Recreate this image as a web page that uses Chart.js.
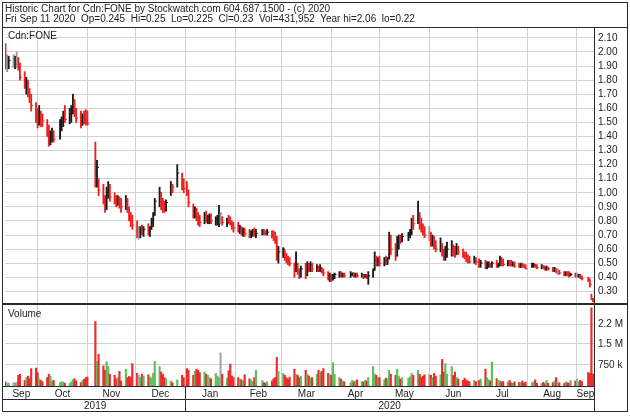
<!DOCTYPE html>
<html>
<head>
<meta charset="UTF-8">
<title>Cdn:FONE historic chart</title>
<script src="https://cdn.jsdelivr.net/npm/chart.js"></script>
<style>
  * { margin: 0; padding: 0; box-sizing: border-box; }
  body { background: #fff; width: 630px; height: 416px; overflow: hidden; font-family: "Liberation Sans", Arial, sans-serif; }
  #wrap { position: relative; width: 630px; height: 416px; }
  canvas { position: absolute; left: 0; top: 0; }
  .hdr { position: absolute; left: 5px; font-size: 10px; line-height: 10px; color: #222; white-space: pre; }
  .tag { position: absolute; font-size: 10px; line-height: 10px; color: #222; }
</style>
</head>
<body>
<div id="wrap">
  <canvas id="chart" width="630" height="416"></canvas>
  <div class="hdr" style="top:4px">Historic Chart for Cdn:FONE by Stockwatch.com 604.687.1500 - (c) 2020</div>
  <div class="hdr" style="top:14px">Fri Sep 11 2020  Op=0.245  Hi=0.25  Lo=0.225  Cl=0.23  Vol=431,952  Year hi=2.06  lo=0.22</div>
  <div class="tag" style="left:8px;top:31px">Cdn:FONE</div>
  <div class="tag" style="left:8px;top:309px">Volume</div>
</div>
<script>
  // --- trading calendar ---
  const startDate = '2019-09-11';
  const endDate = '2020-09-11';
  const holidays = ['2019-10-14', '2019-12-25', '2019-12-26', '2020-01-01', '2020-02-17',
                    '2020-04-10', '2020-05-18', '2020-07-01', '2020-08-03', '2020-09-07'];
  const monthLabels = ['Sep', 'Oct', 'Nov', 'Dec', 'Jan', 'Feb', 'Mar', 'Apr', 'May', 'Jun', 'Jul', 'Aug', 'Sep'];
  const monthStartDates = ['2019-10-01', '2019-11-01', '2019-12-01', '2020-01-01', '2020-02-01', '2020-03-01',
                           '2020-04-01', '2020-05-01', '2020-06-01', '2020-07-01', '2020-08-01', '2020-09-01'];
  const yearLabels = ['2019', '2020'];

  // --- daily prices, one row per month (null = no trading) ---
  const high = [
    2.06,1.98,1.97,1.98,1.97,2.00,1.96,1.92,1.86,1.82,1.80,1.74,1.70,1.64,
    1.60,1.62,1.58,1.56,1.52,1.48,1.44,1.46,1.44,1.52,1.54,1.58,1.62,1.60,1.62,1.70,1.66,1.60,1.58,1.56,1.58,1.59,
    1.58,null,null,1.36,1.23,1.10,1.06,0.98,1.04,1.08,1.06,1.00,0.98,0.98,0.97,0.96,0.98,0.96,0.90,0.86,0.84,
    0.80,0.76,0.76,0.77,0.76,0.78,0.76,0.82,0.86,0.96,1.04,1.00,0.96,0.94,0.95,1.08,1.06,1.20,1.14,1.10,
    1.08,1.02,0.92,0.90,0.89,0.86,0.84,0.86,0.87,0.84,0.85,0.85,0.83,0.84,0.91,0.86,0.83,0.82,0.84,0.83,0.80,0.79,
    0.79,0.77,0.76,0.75,0.75,0.74,0.73,0.74,0.75,0.74,0.74,0.74,0.73,0.74,0.73,0.73,0.72,0.69,0.62,
    0.61,0.59,0.57,0.55,0.54,0.50,0.58,0.50,0.46,0.48,0.50,0.51,0.50,0.51,0.50,0.49,0.48,0.49,0.47,0.46,0.44,0.43,
    0.42,0.42,0.43,0.44,0.44,0.43,0.43,0.44,0.43,0.43,0.43,0.43,0.43,0.42,0.42,0.42,0.44,0.46,0.58,0.55,0.54,
    0.55,0.54,0.55,0.54,0.72,0.70,0.64,0.69,0.70,0.70,0.71,0.72,0.74,0.82,0.84,0.94,0.86,0.82,0.78,0.76,
    0.76,0.72,0.70,0.69,0.66,0.68,0.64,0.60,0.62,0.65,0.66,0.63,0.62,0.64,0.62,0.60,0.58,0.58,0.56,0.55,0.55,0.54,
    0.53,0.52,0.52,0.51,0.51,0.50,0.51,0.52,0.50,0.55,0.54,0.53,0.52,0.52,0.52,0.51,0.51,0.50,0.50,0.50,0.49,0.49,
    0.50,0.50,0.49,0.49,0.49,0.48,0.48,0.48,0.47,0.47,0.47,0.46,0.46,0.45,0.44,0.44,0.44,0.44,0.43,0.43,
    0.43,0.42,0.42,0.41,0.40,0.39,0.28,0.25
  ];
  const low = [
    1.88,1.86,1.88,1.89,1.88,1.89,1.87,1.80,1.74,1.70,1.68,1.64,1.58,1.50,
    1.46,1.48,1.47,1.47,1.40,1.33,1.34,1.36,1.36,1.38,1.44,1.47,1.50,1.49,1.50,1.56,1.54,1.50,1.46,1.48,1.49,1.48,
    1.48,null,null,1.04,1.04,0.98,0.92,0.86,0.88,0.96,0.94,0.92,0.90,0.91,0.89,0.86,0.88,0.86,0.80,0.76,0.74,
    0.68,0.67,0.68,0.70,0.69,0.70,0.69,0.74,0.76,0.84,0.90,0.88,0.86,0.86,0.87,0.98,1.00,1.04,1.02,1.00,
    0.98,0.90,0.82,0.82,0.80,0.77,0.76,0.78,0.79,0.78,0.78,0.78,0.77,0.77,0.76,0.78,0.77,0.76,0.78,0.77,0.74,0.72,
    0.72,0.71,0.70,0.69,0.69,0.68,0.68,0.69,0.69,0.68,0.70,0.70,0.70,0.70,0.68,0.66,0.64,0.52,0.50,
    0.54,0.52,0.50,0.49,0.48,0.40,0.44,0.42,0.39,0.40,0.39,0.41,0.44,0.44,0.44,0.44,0.44,0.44,0.43,0.41,0.38,0.37,
    0.37,0.38,0.39,0.40,0.40,0.40,0.40,0.40,0.41,0.40,0.40,0.40,0.40,0.39,0.40,0.39,0.35,0.40,0.45,0.48,0.48,
    0.48,0.48,0.49,0.49,0.53,0.56,0.52,0.55,0.60,0.64,0.65,0.66,0.68,0.70,0.74,0.78,0.74,0.72,0.70,0.68,
    0.66,0.62,0.62,0.60,0.58,0.58,0.55,0.52,0.52,0.54,0.55,0.55,0.54,0.56,0.56,0.54,0.53,0.51,0.50,0.50,0.50,0.49,
    0.47,0.47,0.46,0.46,0.47,0.47,0.47,0.47,0.47,0.48,0.48,0.48,0.48,0.48,0.48,0.48,0.47,0.47,0.47,0.47,0.47,0.46,
    0.47,0.47,0.47,0.46,0.46,0.46,0.45,0.45,0.45,0.44,0.44,0.43,0.42,0.42,0.41,0.41,0.41,0.40,0.41,0.40,
    0.40,0.40,0.39,0.38,0.37,0.33,0.24,0.225
  ];
  const close = [
    1.92,1.92,1.94,1.94,1.95,1.95,1.88,1.82,1.76,1.78,1.70,1.66,1.62,1.56,
    1.50,1.55,1.52,1.51,1.44,1.36,1.40,1.42,1.38,1.48,1.50,1.55,1.52,1.56,1.58,1.66,1.58,1.53,1.48,1.54,1.52,1.50,
    1.49,null,null,1.08,1.18,1.02,0.95,0.90,1.00,1.04,0.97,0.95,0.94,0.95,0.92,0.90,0.94,0.88,0.83,0.80,0.77,
    0.70,0.70,0.73,0.72,0.74,0.73,0.75,0.80,0.84,0.94,1.00,0.92,0.89,0.88,0.93,1.05,1.04,1.14,1.06,1.03,
    1.00,0.93,0.87,0.88,0.82,0.80,0.79,0.84,0.81,0.83,0.84,0.80,0.81,0.82,0.85,0.85,0.79,0.81,0.80,0.79,0.77,0.75,
    0.74,0.75,0.72,0.73,0.71,0.70,0.71,0.72,0.70,0.71,0.73,0.72,0.71,0.72,0.70,0.68,0.66,0.55,0.58,
    0.60,0.54,0.52,0.51,0.50,0.46,0.49,0.44,0.42,0.46,0.42,0.47,0.46,0.49,0.46,0.47,0.45,0.46,0.44,0.43,0.40,0.41,
    0.39,0.41,0.42,0.43,0.41,0.42,0.41,0.42,0.43,0.41,0.42,0.41,0.42,0.40,0.41,0.40,0.41,0.45,0.52,0.50,0.51,
    0.50,0.52,0.51,0.53,0.66,0.60,0.55,0.66,0.68,0.66,0.69,0.70,0.72,0.80,0.78,0.84,0.76,0.74,0.72,0.70,
    0.70,0.64,0.68,0.62,0.60,0.62,0.57,0.54,0.58,0.60,0.62,0.58,0.56,0.60,0.58,0.56,0.55,0.53,0.52,0.51,0.53,0.51,
    0.49,0.50,0.47,0.48,0.49,0.48,0.50,0.48,0.49,0.53,0.50,0.49,0.50,0.49,0.48,0.49,0.48,0.47,0.49,0.48,0.47,0.46,
    0.48,0.49,0.48,0.47,0.48,0.47,0.46,0.47,0.46,0.45,0.46,0.44,0.44,0.43,0.42,0.43,0.42,0.41,0.42,0.41,
    0.41,0.42,0.40,0.39,0.38,0.35,0.25,0.23
  ];
  // volume in thousands of shares
  const volume = [
    150,90,100,120,110,130,380,420,200,300,350,260,620,640,
    480,260,200,150,300,420,350,180,200,120,150,130,100,90,150,220,260,180,120,200,240,300,
    320,null,null,2300,880,1130,720,560,860,700,420,380,250,300,520,180,600,300,340,320,800,
    450,380,300,420,360,400,320,280,450,880,690,500,420,300,260,180,120,220,380,300,
    620,560,380,520,600,560,480,500,420,380,300,260,450,350,300,1180,420,280,540,780,360,300,
    300,250,220,180,400,260,200,150,300,560,200,120,100,150,180,260,300,1020,520,
    450,380,300,250,320,600,420,380,300,350,560,420,360,280,300,420,560,480,520,620,450,400,
    380,830,420,300,250,180,150,120,200,150,180,220,160,140,200,180,300,700,420,380,300,
    300,220,280,260,560,420,380,600,350,250,300,280,320,450,380,560,420,300,350,400,
    420,380,300,450,350,400,950,500,800,420,700,380,500,300,250,200,280,220,180,150,200,160,
    200,250,600,300,220,180,850,260,200,180,150,160,140,200,120,100,150,130,120,180,100,140,
    120,150,220,100,90,130,80,200,100,120,180,300,140,110,90,150,120,100,200,180,
    250,150,200,160,480,460,2790,432
  ];

  const priceTicks = [0.30,0.40,0.50,0.60,0.70,0.80,0.90,1.00,1.10,1.20,1.30,1.40,1.50,1.60,1.70,1.80,1.90,2.00,2.10];
  const volTicks = [750, 1500, 2200];
  const volTickLabels = ['750 k', '1.5 M', '2.2 M'];

  // --- build x positions (calendar days since start) ---
  const DAY = 86400000;
  const t0 = Date.parse(startDate);
  const dayOf = s => (Date.parse(s) - t0) / DAY;
  const tradeDays = [];
  for (let t = t0; t <= Date.parse(endDate); t += DAY) {
    const d = new Date(t);
    const wd = d.getUTCDay();
    if (wd === 0 || wd === 6) continue;
    if (holidays.includes(d.toISOString().slice(0, 10))) continue;
    tradeDays.push((t - t0) / DAY);
  }

  const X_MIN = -0.3, X_MAX = 366.6;
  const monthStarts = monthStartDates.map(dayOf);
  const edges = [X_MIN, ...monthStarts, X_MAX];
  const monthMids = monthLabels.map((_, i) => (edges[i] + edges[i + 1]) / 2);
  const yearStart = dayOf('2020-01-01');
  const yearMids = [(X_MIN + yearStart) / 2, (yearStart + X_MAX) / 2];

  const RED = '#ee2020', BLACK = '#1a1a1a', GREY = '#9a9a9a';
  const VRED = '#ee2a2a', VGREEN = '#5fbf5f', VGREY = '#a8a8a8';

  const rangeData = [], closeData = [], volData = [];
  const barColors = [], volColors = [];
  let prev = null;
  tradeDays.forEach((d, i) => {
    if (high[i] === null) return;
    const c = close[i];
    const dir = prev === null ? -1 : Math.sign(Math.round((c - prev) * 1000));
    barColors.push(dir > 0 ? BLACK : dir < 0 ? RED : GREY);
    volColors.push(dir > 0 ? VGREEN : dir < 0 ? VRED : VGREY);
    rangeData.push({ x: d, y: [low[i], high[i]] });
    closeData.push({ x: d + 0.6, y: c });
    volData.push({ x: d, y: volume[i] });
    prev = c;
  });

  Chart.defaults.font.family = '"Liberation Sans", Arial, sans-serif';
  Chart.defaults.font.size = 10;
  Chart.defaults.color = '#222';

  const GRID = '#d2d2d2';

  // panel borders and the year divider
  const frame = {
    id: 'frame',
    afterDraw(chart) {
      const { ctx, chartArea: a, scales } = chart;
      const line = (x1, y1, x2, y2) => { ctx.beginPath(); ctx.moveTo(x1, y1); ctx.lineTo(x2, y2); ctx.stroke(); };
      ctx.save();
      ctx.strokeStyle = '#2a2a2a';
      ctx.lineWidth = 1;
      ctx.strokeRect(2.5, 2.5, 625, 409);
      line(2, 27.5, 628, 27.5);
      line(a.right + 0.5, 27, a.right + 0.5, 412);
      line(2, a.bottom + 0.5, a.right, a.bottom + 0.5);
      line(2, scales.xy.top + 0.5, a.right, scales.xy.top + 0.5);
      const xb = Math.round(scales.x.getPixelForValue(yearStart)) + 0.5;
      line(xb, a.bottom, xb, 412);
      ctx.fillStyle = '#2a2a2a';
      ctx.fillRect(2, Math.round(scales.yVol.top) - 1, 626, 2);
      ctx.restore();
    }
  };

  const xBase = { type: 'linear', min: X_MIN, max: X_MAX, offset: false, position: 'bottom' };

  new Chart(document.getElementById('chart'), {
    type: 'bar',
    data: {
      datasets: [
        { label: 'Range', yAxisID: 'y', data: rangeData, backgroundColor: barColors, barThickness: 1.2, grouped: false },
        { type: 'line', label: 'Close', yAxisID: 'y', data: closeData, showLine: false,
          pointStyle: 'line', pointRadius: 1, pointBorderWidth: 1,
          pointBorderColor: barColors, pointBackgroundColor: barColors },
        { label: 'Volume', yAxisID: 'yVol', data: volData, backgroundColor: volColors, barThickness: 1.5, grouped: false },
      ]
    },
    options: {
      responsive: false,
      animation: false,
      events: [],
      layout: { padding: { left: 3, right: 3, top: 28, bottom: 5 } },
      plugins: { legend: { display: false }, tooltip: { enabled: false } },
      scales: {
        x: {
          ...xBase, weight: 0,
          afterBuildTicks: s => { s.ticks = monthStarts.map(v => ({ value: v })); },
          ticks: { display: false },
          grid: { color: GRID, drawTicks: false, offset: false },
          border: { display: false },
          afterFit: s => { s.height = 0; }
        },
        xm: {
          ...xBase, weight: 1,
          afterBuildTicks: s => { s.ticks = monthMids.map(v => ({ value: v })); },
          ticks: { autoSkip: false, maxRotation: 0, padding: 2, callback: (v, i) => monthLabels[i] },
          grid: { display: false, drawTicks: false },
          border: { display: false },
          afterFit: s => { s.height = 13; }
        },
        xy: {
          ...xBase, weight: 2,
          afterBuildTicks: s => { s.ticks = yearMids.map(v => ({ value: v })); },
          ticks: { autoSkip: false, maxRotation: 0, padding: 1, callback: (v, i) => yearLabels[i] },
          grid: { display: false, drawTicks: false },
          border: { display: false },
          afterFit: s => { s.height = 12; }
        },
        y: {
          type: 'linear', position: 'right', stack: 'panels', stackWeight: 276,
          min: 0.21, max: 2.17,
          afterBuildTicks: s => { s.ticks = priceTicks.map(v => ({ value: v })); },
          ticks: { autoSkip: false, padding: 4, callback: v => v.toFixed(2) },
          grid: { color: GRID, drawTicks: false },
          border: { display: false },
          afterFit: s => { s.width = 33; }
        },
        yVol: {
          type: 'linear', position: 'right', stack: 'panels', stackWeight: 82,
          min: 0, max: 2924,
          afterBuildTicks: s => { s.ticks = volTicks.map(v => ({ value: v })); },
          ticks: { autoSkip: false, padding: 4, callback: (v, i) => volTickLabels[i] },
          grid: { color: GRID, drawTicks: false },
          border: { display: false },
          afterFit: s => { s.width = 33; }
        }
      }
    },
    plugins: [frame]
  });
</script>
</body>
</html>
